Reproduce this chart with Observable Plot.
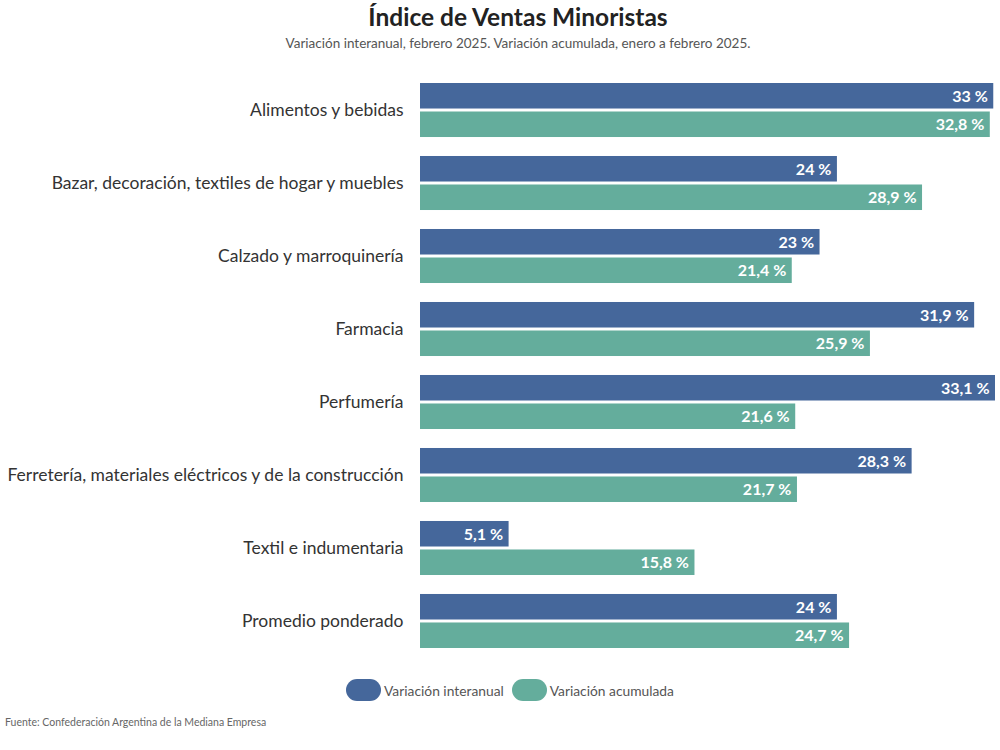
<!DOCTYPE html>
<html><head><meta charset="utf-8">
<script src="https://cdn.jsdelivr.net/npm/d3@7"></script>
<script src="https://cdn.jsdelivr.net/npm/@observablehq/plot@0.6"></script>
<style>
body{margin:0;background:#fff;font-family:Lato,"Open Sans",sans-serif;width:1000px;height:750px;position:relative;overflow:hidden}
#title{position:absolute;top:2px;left:18px;width:1000px;text-align:center;font-size:24.5px;font-weight:bold;color:#222}
#subtitle{position:absolute;top:35px;left:18px;width:1000px;text-align:center;font-size:13.5px;color:#555}
#chart{position:absolute;top:62px;left:0}
#legend{position:absolute;top:679px;left:10px;width:1000px;display:flex;justify-content:center;align-items:center;font-size:13.8px;color:#555}
#legend .item{display:flex;align-items:center;margin:0 4px}
#legend .sw{display:inline-block;width:35px;height:22px;border-radius:11px;margin-right:3px}
#source{position:absolute;top:716px;left:5px;font-size:10.5px;color:#666}
</style></head>
<body>
<div id="title">Índice de Ventas Minoristas</div>
<div id="subtitle">Variación interanual, febrero 2025. Variación acumulada, enero a febrero 2025.</div>
<div id="chart"></div>
<div id="legend"></div>
<div id="source">Fuente: Confederación Argentina de la Mediana Empresa</div>
<script>
const categories = [
  "Alimentos y bebidas",
  "Bazar, decoración, textiles de hogar y muebles",
  "Calzado y marroquinería",
  "Farmacia",
  "Perfumería",
  "Ferretería, materiales eléctricos y de la construcción",
  "Textil e indumentaria",
  "Promedio ponderado"
];
const series = ["Variación interanual", "Variación acumulada"];
const interanual = [33, 24, 23, 31.9, 33.1, 28.3, 5.1, 24];
const acumulada = [32.8, 28.9, 21.4, 25.9, 21.6, 21.7, 15.8, 24.7];
const colors = ["#45679b", "#64ad9c"];

const dataA = categories.map((c, i) => ({cat: c, serie: series[0], value: interanual[i]}));
const dataB = categories.map((c, i) => ({cat: c, serie: series[1], value: acumulada[i]}));
const fmt = v => String(v).replace(".", ",") + " %";

const plot = Plot.plot({
  width: 1000,
  height: 596,
  marginLeft: 420,
  marginRight: 5,
  marginTop: 21,
  marginBottom: 10,
  style: {fontFamily: "Lato, 'Open Sans', sans-serif", background: "transparent"},
  x: {domain: [0, 33.1], axis: null},
  y: {domain: categories, paddingInner: 0.26, paddingOuter: 0, round: false, label: null},
  color: {domain: series, range: colors},
  marks: [
    Plot.axisY({anchor: "left", tickSize: 0, tickPadding: 17, fontSize: 17.5, label: null, fill: "#333"}),
    Plot.barX(dataA, {x: "value", y: "cat", fill: "serie", insetBottom: 28.5}),
    Plot.barX(dataB, {x: "value", y: "cat", fill: "serie", insetTop: 28.5}),
    Plot.text(dataA, {x: "value", y: "cat", text: d => fmt(d.value), textAnchor: "end", dx: -6, dy: -14, fill: "white", fontWeight: "bold", fontSize: 16}),
    Plot.text(dataB, {x: "value", y: "cat", text: d => fmt(d.value), textAnchor: "end", dx: -6, dy: 14, fill: "white", fontWeight: "bold", fontSize: 16})
  ]
});
document.getElementById("chart").appendChild(plot);

const leg = document.getElementById("legend");
series.forEach((s, i) => {
  const it = document.createElement("div");
  it.className = "item";
  it.innerHTML = `<span class="sw" style="background:${colors[i]}"></span><span>${s}</span>`;
  leg.appendChild(it);
});
</script>
</body></html>
